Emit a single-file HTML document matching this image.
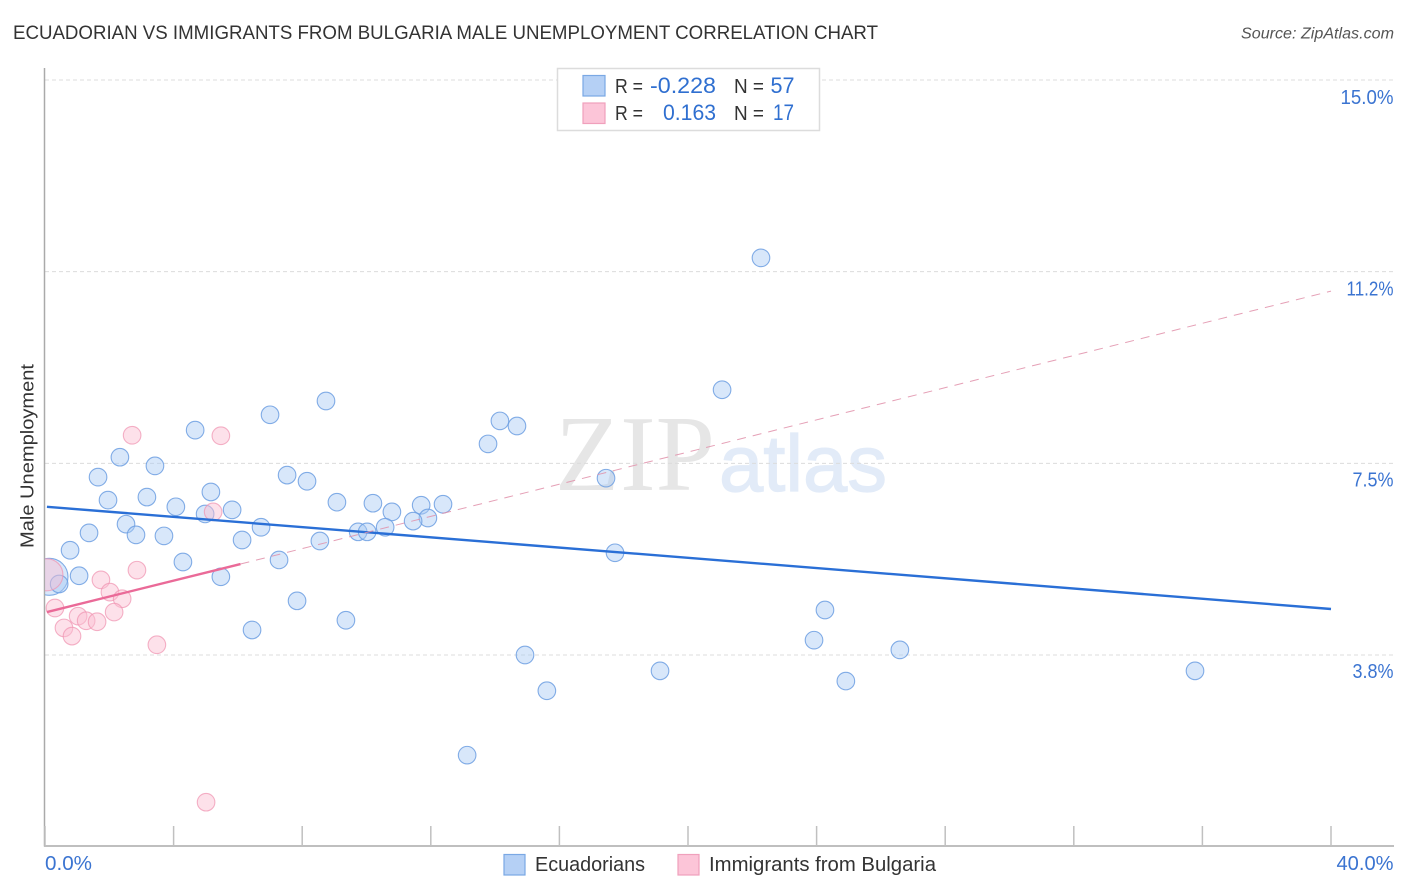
<!DOCTYPE html>
<html lang="en">
<head>
<meta charset="utf-8">
<title>Ecuadorian vs Immigrants from Bulgaria Male Unemployment Correlation Chart</title>
<style>
  html, body { margin: 0; padding: 0; background: #fff; }
  body { width: 1406px; height: 892px; overflow: hidden; }
  svg { display: block; font-family: "Liberation Sans", sans-serif; }
</style>
</head>
<body>
<svg id="chart" width="1406" height="892" viewBox="0 0 1406 892" xmlns="http://www.w3.org/2000/svg">
  <defs>
    <clipPath id="plot-clip"><rect x="45" y="60" width="1349" height="786"/></clipPath>
  </defs>
  <rect x="0" y="0" width="1406" height="892" fill="#ffffff"/>

  <text x="13" y="39" font-size="19" fill="#333333" textLength="865" lengthAdjust="spacingAndGlyphs">ECUADORIAN VS IMMIGRANTS FROM BULGARIA MALE UNEMPLOYMENT CORRELATION CHART</text>
  <text x="1241" y="38.5" font-size="15.5" font-style="italic" fill="#555555" textLength="153" lengthAdjust="spacingAndGlyphs">Source: ZipAtlas.com</text>

  <g>
    <text x="555" y="490" font-family="'Liberation Serif', serif" font-size="108" fill="#e6e6e6" textLength="160" lengthAdjust="spacingAndGlyphs">ZIP</text>
    <text x="719" y="491" font-size="80" fill="#e2ebf8" stroke="#e2ebf8" stroke-width="1.2" textLength="168" lengthAdjust="spacingAndGlyphs">atlas</text>
  </g>

  <g id="grid"></g>
  <g id="axes"></g>
  <g id="xticks"></g>
  <g id="ylabels"></g>
  <g id="xlabels"></g>

  <text transform="translate(33.5,548) rotate(-90)" x="0" y="0" font-size="18.5" fill="#333333" textLength="184" lengthAdjust="spacingAndGlyphs">Male Unemployment</text>

  <g clip-path="url(#plot-clip)">
    <g id="blue-points"></g>
    <g id="pink-points"></g>
    <g id="trends"></g>
  </g>

  <g>
    <rect x="557.5" y="68.5" width="262" height="62" fill="#ffffff" stroke="#dcdcdc" stroke-width="1.5"/>
    <rect x="583" y="75.5" width="22" height="20.5" fill="#b5d0f5" stroke="#7aa8e4" stroke-width="1.2"/>
    <rect x="583" y="103" width="22" height="20.5" fill="#fcc5d8" stroke="#f0a0bc" stroke-width="1.2"/>
    <text x="615" y="93" font-size="20" fill="#333333" textLength="28" lengthAdjust="spacingAndGlyphs">R =</text>
    <text x="650" y="93" font-size="22.5" fill="#2f6fd0" textLength="66" lengthAdjust="spacingAndGlyphs">-0.228</text>
    <text x="734" y="93" font-size="20" fill="#333333" textLength="30" lengthAdjust="spacingAndGlyphs">N =</text>
    <text x="770.5" y="93" font-size="22.5" fill="#2f6fd0" textLength="24" lengthAdjust="spacingAndGlyphs">57</text>
    <text x="615" y="120" font-size="20" fill="#333333" textLength="28" lengthAdjust="spacingAndGlyphs">R =</text>
    <text x="663" y="120" font-size="22.5" fill="#2f6fd0" textLength="53" lengthAdjust="spacingAndGlyphs">0.163</text>
    <text x="734" y="120" font-size="20" fill="#333333" textLength="30" lengthAdjust="spacingAndGlyphs">N =</text>
    <text x="773" y="120" font-size="22.5" fill="#2f6fd0" textLength="21" lengthAdjust="spacingAndGlyphs">17</text>
  </g>

  <g>
    <rect x="504" y="854.5" width="21" height="20.5" fill="#b5d0f5" stroke="#7aa8e4" stroke-width="1.2"/>
    <text x="535" y="871" font-size="20" fill="#333333" textLength="110" lengthAdjust="spacingAndGlyphs">Ecuadorians</text>
    <rect x="678" y="854.5" width="21" height="20.5" fill="#fcc5d8" stroke="#f0a0bc" stroke-width="1.2"/>
    <text x="709" y="871" font-size="20" fill="#333333" textLength="227" lengthAdjust="spacingAndGlyphs">Immigrants from Bulgaria</text>
  </g>
</svg>

<script>
// Chart data (percent units)
const ecuadorianX = [0.14,22.27,21.06,8.74,7.00,14.15,14.68,4.67,13.78,2.33,3.42,1.65,7.53,8.15,17.45,5.16,1.96,3.17,9.08,10.20,11.70,12.38,4.07,5.82,4.98,10.79,11.91,11.45,2.52,6.72,10.58,1.37,2.83,3.70,9.74,10.02,6.13,8.55,0.78,17.73,4.29,7.28,1.06,5.47,0.44,7.84,24.26,9.36,6.44,23.92,26.59,14.93,19.13,35.77,24.91,15.61,13.13];
const ecuadorianY = [5.28,11.52,8.94,8.72,8.45,8.33,8.23,8.15,7.88,7.62,7.45,7.23,7.27,7.15,7.21,6.94,6.78,6.84,6.74,6.72,6.68,6.70,6.65,6.59,6.51,6.55,6.43,6.37,6.31,6.25,6.25,6.14,6.10,6.08,6.16,6.16,6.00,5.98,5.80,5.75,5.57,5.61,5.30,5.28,5.14,4.81,4.63,4.43,4.24,4.04,3.85,3.75,3.44,3.44,3.24,3.05,1.79];
const bulgariaX = [0.06,2.71,5.47,5.23,2.86,1.74,2.02,2.40,0.31,2.15,1.03,1.28,1.62,0.59,0.84,3.48,5.01];
const bulgariaY = [5.32,8.05,8.04,6.55,5.41,5.22,4.98,4.85,4.67,4.59,4.51,4.42,4.40,4.28,4.12,3.95,0.87];

const ecuadorianTrendX = [0.06,40];
const ecuadorianTrendY = [6.65,4.65];
const bulgariaTrendX = [0.06,6.08];
const bulgariaTrendY = [4.59,5.53];
const bulgariaExtensionX = [6.08,40];
const bulgariaExtensionY = [5.53,10.87];

const yTickValues = [15,11.25,7.5,3.75];
const yTickLabels = ['15.0%','11.2%','7.5%','3.8%'];
const xTickValues = [0,4,8,12,16,20,24,28,32,36,40];
const xEndValues = [0,40];
const xEndLabels = ['0.0%','40.0%'];

const SVG_NS = 'http://www.w3.org/2000/svg';
const xScale = function (v) { return 45 + v * 32.15; };
const yScale = function (v) { return 846.67 - v * 51.11; };
const yLabelBaseline = function (v) { return 104 + (15 - v) * 51.02; };

function make(tag, attrs, parent) {
  const el = document.createElementNS(SVG_NS, tag);
  Object.keys(attrs).forEach(function (k) { el.setAttribute(k, attrs[k]); });
  parent.appendChild(el);
  return el;
}

const grid = document.getElementById('grid');
yTickValues.forEach(function (v) {
  const el = make('line', { x1: 45, x2: 1393, y1: yScale(v), y2: yScale(v), stroke: '#dcdcdc', 'stroke-width': 1, 'stroke-dasharray': '4 3' }, grid);
  
  
});

const axes = document.getElementById('axes');
const yAxis = make('line', { x1: 44.5, x2: 44.5, y1: 68, y2: 846.5, stroke: '#aaaaaa', 'stroke-width': 1.5 }, axes);


const xAxis = make('line', { x1: 44, x2: 1394, y1: 846, y2: 846, stroke: '#aaaaaa', 'stroke-width': 1.5 }, axes);



const xticks = document.getElementById('xticks');
xTickValues.forEach(function (v) {
  const el = make('line', { x1: xScale(v), x2: xScale(v), y1: 826, y2: 846, stroke: '#c0c0c0', 'stroke-width': 1.5 }, xticks);
  
  
});

const ylabels = document.getElementById('ylabels');
yTickValues.forEach(function (v, i) {
  const label = yTickLabels[i];
  const el = make('text', { x: 1393.5, y: yLabelBaseline(v), 'text-anchor': 'end', 'font-size': 20, fill: '#3b74d1', textLength: label.length === 5 ? (label.charAt(0) === '1' && label.charAt(1) === '1' ? 47 : 53) : 41, lengthAdjust: 'spacingAndGlyphs' }, ylabels);
  
  
  el.textContent = label;
});

const xlabels = document.getElementById('xlabels');
xEndValues.forEach(function (v, i) {
  const el = make('text', { x: i === 0 ? 45 : 1393.5, y: 870, 'text-anchor': i === 0 ? 'start' : 'end', 'font-size': 20, fill: '#3b74d1', textLength: i === 0 ? 47 : 57, lengthAdjust: 'spacingAndGlyphs' }, xlabels);
  
  
  el.textContent = xEndLabels[i];
});

// The first point in each series is the large aggregate bubble at the axis.
const bluePoints = document.getElementById('blue-points');
ecuadorianX.forEach(function (v, i) {
  const el = make('circle', { cx: xScale(v), cy: yScale(ecuadorianY[i]), r: i === 0 ? 18.5 : 8.8, fill: '#a9c9f3', 'fill-opacity': 0.45, stroke: '#6d9fe2', 'stroke-opacity': 0.85, 'stroke-width': 1.1 }, bluePoints);
  
  
});

const pinkPoints = document.getElementById('pink-points');
bulgariaX.forEach(function (v, i) {
  const el = make('circle', { cx: xScale(v), cy: yScale(bulgariaY[i]), r: i === 0 ? 16 : 8.8, fill: '#fbc0d2', 'fill-opacity': 0.47, stroke: '#f094b2', 'stroke-opacity': 0.72, 'stroke-width': 1.1 }, pinkPoints);
  
  
});

const trends = document.getElementById('trends');
const blueTrend = make('line', { x1: xScale(ecuadorianTrendX[0]), y1: yScale(ecuadorianTrendY[0]), x2: xScale(ecuadorianTrendX[1]), y2: yScale(ecuadorianTrendY[1]), stroke: '#2a6fd6', 'stroke-width': 2.4 }, trends);


const pinkExtension = make('line', { x1: xScale(bulgariaExtensionX[0]), y1: yScale(bulgariaExtensionY[0]), x2: xScale(bulgariaExtensionX[1]), y2: yScale(bulgariaExtensionY[1]), stroke: '#e08fa9', 'stroke-width': 1, 'stroke-opacity': 0.85, 'stroke-dasharray': '9 7' }, trends);


const pinkTrend = make('line', { x1: xScale(bulgariaTrendX[0]), y1: yScale(bulgariaTrendY[0]), x2: xScale(bulgariaTrendX[1]), y2: yScale(bulgariaTrendY[1]), stroke: '#ea6a98', 'stroke-width': 2.4 }, trends);


</script>
</body>
</html>
